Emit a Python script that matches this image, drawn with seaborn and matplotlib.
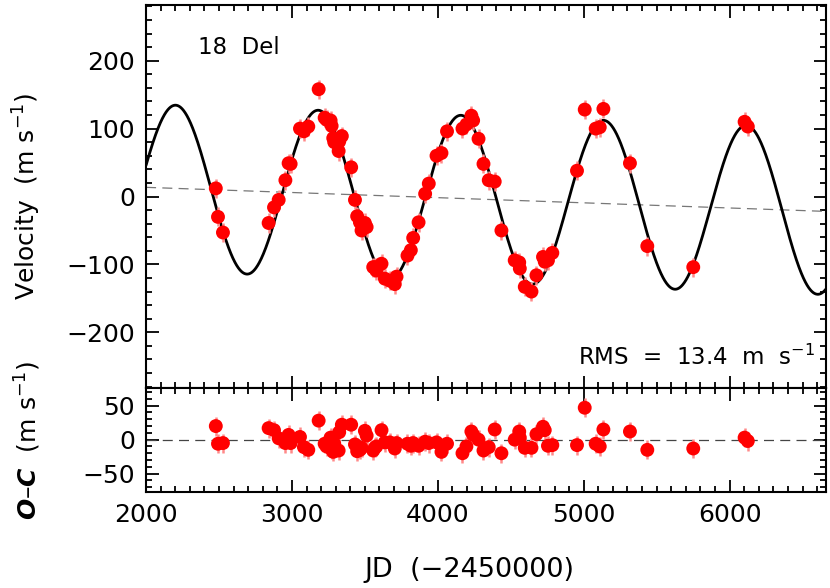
import numpy as np
import pandas as pd
import matplotlib
matplotlib.use("Agg")
import matplotlib.pyplot as plt
import seaborn as sns
from matplotlib.ticker import MultipleLocator

sns.set_theme(style="white")
plt.rcParams['font.family'] = ['DejaVu Sans']
plt.rcParams['mathtext.fontset'] = 'dejavusans'
for k in ("text.color", "axes.labelcolor", "xtick.color", "ytick.color"):
    plt.rcParams[k] = "black"

# ---- data ----
jd = [2478, 2493, 2527, 2840, 2877, 2909, 2955, 2977, 2991, 3055, 3082, 3112, 3183,
      3224, 3237, 3265, 3272, 3283, 3290, 3320, 3324, 3342, 3406, 3432, 3447, 3466,
      3477, 3500, 3512, 3557, 3568, 3578, 3614, 3637, 3671, 3705, 3717, 3792, 3815,
      3831, 3868, 3913, 3938, 3991, 4025, 4063, 4169, 4196, 4230, 4242, 4279, 4313,
      4349, 4390, 4436, 4527, 4558, 4562, 4596, 4642, 4676, 4721, 4733, 4755, 4785,
      4954, 5007, 5082, 5110, 5135, 5317, 5436, 5751, 6103, 6125]
rv = [12, -30, -53, -39, -16, -5, 24, 49, 48, 100, 96, 103, 158,
      116, 113, 112, 104, 86, 80, 67, 81, 89, 43, -5, -29, -38,
      -50, -39, -45, -104, -104, -109, -99, -121, -124, -129, -118, -87, -79,
      -61, -38, 4, 19, 60, 64, 96, 100, 106, 119, 112, 85, 48,
      24, 22, -50, -94, -97, -106, -133, -140, -116, -89, -96, -94, -83,
      38, 128, 100, 102, 129, 49, -73, -104, 110, 103]
oc = [20, -6, -5, 17, 14, 2, -5, 7, -5, 4, -11, -15, 28,
      -6, -10, 3, -14, -18, -6, -16, 11, 22, 22, -7, -17, -15,
      -12, 13, 6, -16, -12, -10, 14, -4, -4, -13, -5, -6, -9,
      -5, -9, -3, -5, -4, -18, -6, -20, -10, 12, 7, 0, -16,
      -11, 15, -20, 0, 12, 3, -12, -12, 8, 19, 14, -9, -8,
      -8, 47, -6, -10, 15, 12, -15, -13, 3, -2]
rv_err = 14.0

# orbit fit parameters (sinusoid + linear trend)
period = 978.0
semi_amp = 122.5
t_zero = 1958.0
trend_zero = 13.5
trend_slope = -0.0076

x_range = (2000, 6660)

df = pd.DataFrame({"JD": jd, "RV": rv, "OC": oc})
t = np.linspace(x_range[0], x_range[1], 2000)
trend = trend_zero + trend_slope * (t - 2000)
model = trend + semi_amp * np.sin(2 * np.pi * (t - t_zero) / period)
curve = pd.DataFrame({"JD": t, "model": model, "trend": trend})

fig = plt.figure(figsize=(8.3, 5.88), dpi=100)
ax1 = fig.add_axes([0.176, 0.3401, 0.819, 0.6514])
ax2 = fig.add_axes([0.176, 0.1633, 0.819, 0.1768], sharex=ax1)

FS = 18
FT = 16.5
red = "#ff0000"
ebar = "#ff8a8a"
msize = 100

# top panel
sns.lineplot(data=curve, x="JD", y="trend", ax=ax1, color="#777777", lw=0.9, zorder=1)
ax1.lines[-1].set_linestyle((0, (8, 5)))
sns.lineplot(data=curve, x="JD", y="model", ax=ax1, color="black", lw=2.0, zorder=2)
ax1.errorbar(df["JD"], df["RV"], yerr=rv_err, fmt="none", ecolor=ebar,
             elinewidth=1.8, capsize=0, zorder=3)
sns.scatterplot(data=df, x="JD", y="RV", ax=ax1, color=red, s=msize,
                edgecolor="none", linewidth=0, zorder=4)

ax1.set_xlim(*x_range)
ax1.set_ylim(-282, 282)
ax1.set_ylabel("Velocity  (m s$^{-1}$)", fontsize=FS)
ax1.yaxis.set_label_coords(-0.152, 0.5)
ax1.set_xlabel("")
ax1.text(0.076, 0.888, "18  Del", transform=ax1.transAxes, fontsize=FT,
         ha="left", va="center")
ax1.text(0.984, 0.06, "RMS  =  13.4  m  s$^{-1}$", transform=ax1.transAxes,
         fontsize=FT, ha="right", va="baseline")
ax1.yaxis.set_major_locator(MultipleLocator(100))
ax1.yaxis.set_minor_locator(MultipleLocator(20))
ax1.xaxis.set_major_locator(MultipleLocator(1000))
ax1.xaxis.set_minor_locator(MultipleLocator(100))
plt.setp(ax1.get_xticklabels(), visible=False)

# bottom panel
ax2.axhline(0, color="#444444", lw=0.9, ls=(0, (8, 5)), zorder=1)
ax2.errorbar(df["JD"], df["OC"], yerr=rv_err, fmt="none", ecolor=ebar,
             elinewidth=1.8, capsize=0, zorder=3)
sns.scatterplot(data=df, x="JD", y="OC", ax=ax2, color=red, s=msize,
                edgecolor="none", linewidth=0, zorder=4)
ax2.set_ylim(-77, 76)
ax2.set_ylabel("$\\mathbfit{O–C}$  (m s$^{-1}$)", fontsize=FS)
ax2.yaxis.set_label_coords(-0.152, 0.5)
ax2.set_xlabel("JD  (−2450000)", fontsize=19.5)
ax2.xaxis.set_label_coords(0.476, -0.63)
ax2.yaxis.set_major_locator(MultipleLocator(50))
ax2.yaxis.set_minor_locator(MultipleLocator(10))

for ax in (ax1, ax2):
    for s in ax.spines.values():
        s.set_linewidth(1.5)
        s.set_color("black")
    ax.tick_params(which="both", direction="in", top=True, right=True,
                   bottom=True, left=True, width=1.3, color="black")
    ax.tick_params(which="major", length=9, labelsize=FS, pad=8)
    ax.tick_params(which="minor", length=4.5)

fig.savefig("out.png", dpi=100)
